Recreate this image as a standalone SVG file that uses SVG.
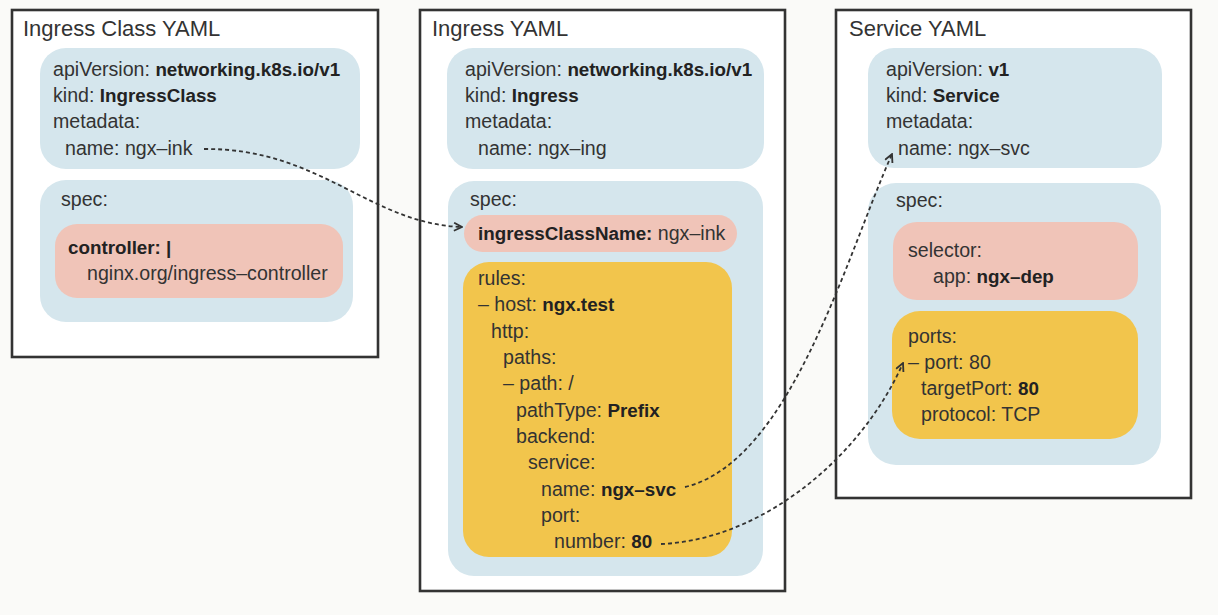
<svg xmlns="http://www.w3.org/2000/svg" width="1218" height="615" viewBox="0 0 1218 615">
<defs>
<style>
.frame{fill:#ffffff;stroke:#333333;stroke-width:2.6}
.blue{fill:#d5e6ed}
.pink{fill:#f0c4b8}
.yellow{fill:#f2c54c}
text{font-family:"Liberation Sans",Arial,sans-serif;font-size:19.6px;fill:#333333}
.title{font-size:22px}
.b{font-weight:bold;fill:#222222;font-size:18.8px}
.conn{fill:none;stroke:#333333;stroke-width:1.8;stroke-dasharray:4 3}
</style>
<marker id="arrow" viewBox="0 0 10 10" refX="9" refY="5" markerWidth="10" markerHeight="10" markerUnits="userSpaceOnUse" orient="auto">
<path d="M1,1 L9,5 L1,9" fill="none" stroke="#333333" stroke-width="1.8"/>
</marker>
</defs>
<rect x="0" y="0" width="1218" height="615" fill="#fafaf8"/>

<g id="ingress-class">
<rect class="frame" x="12" y="10" width="366" height="347"/>
<text class="title" x="23" y="36">Ingress Class YAML</text>
<rect class="blue" x="40" y="48" width="320" height="121" rx="26"/>
<text x="53" y="76">apiVersion: <tspan class="b">networking.k8s.io/v1</tspan></text>
<text x="53" y="102">kind: <tspan class="b">IngressClass</tspan></text>
<text x="53" y="128">metadata:</text>
<text x="65" y="155">name: ngx–ink</text>
<rect class="blue" x="40" y="180" width="313" height="142" rx="26"/>
<text x="61" y="206">spec:</text>
<rect class="pink" x="55" y="224" width="288" height="74" rx="22"/>
<text x="68" y="254"><tspan class="b">controller: |</tspan></text>
<text x="87" y="280">nginx.org/ingress–controller</text>
</g>

<g id="ingress">
<rect class="frame" x="420" y="10" width="365" height="581"/>
<text class="title" x="432" y="36">Ingress YAML</text>
<rect class="blue" x="447" y="48" width="317" height="121" rx="26"/>
<text x="465" y="76">apiVersion: <tspan class="b">networking.k8s.io/v1</tspan></text>
<text x="465" y="102">kind: <tspan class="b">Ingress</tspan></text>
<text x="465" y="128">metadata:</text>
<text x="478" y="155">name: ngx–ing</text>
<rect class="blue" x="448" y="181" width="315" height="395" rx="26"/>
<text x="470" y="206">spec:</text>
<rect class="pink" x="464" y="215" width="273" height="37" rx="18.5"/>
<text x="478" y="240"><tspan class="b">ingressClassName:</tspan> ngx–ink</text>
<rect class="yellow" x="463" y="262" width="269" height="295" rx="26"/>
<text x="478" y="285">rules:</text>
<text x="478" y="311">– host: <tspan class="b">ngx.test</tspan></text>
<text x="491" y="338">http:</text>
<text x="503" y="364">paths:</text>
<text x="503" y="390">– path: /</text>
<text x="516" y="417">pathType: <tspan class="b">Prefix</tspan></text>
<text x="516" y="443">backend:</text>
<text x="528" y="469">service:</text>
<text x="541" y="496">name: <tspan class="b">ngx–svc</tspan></text>
<text x="541" y="522">port:</text>
<text x="554" y="548">number: <tspan class="b">80</tspan></text>
</g>

<g id="service">
<rect class="frame" x="836" y="10" width="355" height="488"/>
<text class="title" x="849" y="36">Service YAML</text>
<rect class="blue" x="868" y="48" width="294" height="120" rx="26"/>
<text x="886" y="76">apiVersion: <tspan class="b">v1</tspan></text>
<text x="886" y="102">kind: <tspan class="b">Service</tspan></text>
<text x="886" y="128">metadata:</text>
<text x="898" y="155">name: ngx–svc</text>
<rect class="blue" x="868" y="183" width="293" height="282" rx="28"/>
<text x="896" y="207">spec:</text>
<rect class="pink" x="893" y="222" width="245" height="78" rx="24"/>
<text x="908" y="257">selector:</text>
<text x="933" y="283">app: <tspan class="b">ngx–dep</tspan></text>
<rect class="yellow" x="892" y="311" width="246" height="128" rx="28"/>
<text x="908" y="343">ports:</text>
<text x="908" y="369">– port: 80</text>
<text x="921" y="395">targetPort: <tspan class="b">80</tspan></text>
<text x="921" y="421">protocol: TCP</text>
</g>

<g id="connectors">
<path class="conn" d="M204,149 C320,148 370,224 462,227" marker-end="url(#arrow)"/>
<path class="conn" d="M685,487 C790,462 845,260 892,154" marker-end="url(#arrow)"/>
<path class="conn" d="M661,544 C760,540 860,460 903,363" marker-end="url(#arrow)"/>
</g>
</svg>
